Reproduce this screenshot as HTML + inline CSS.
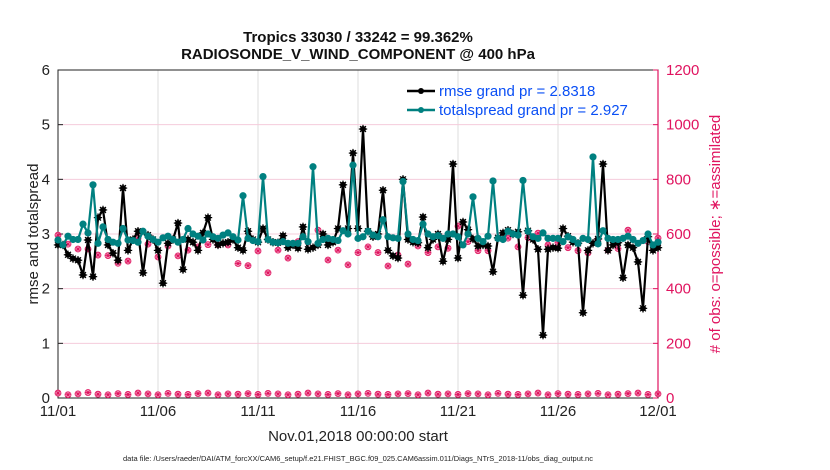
<!DOCTYPE html>
<html><head><meta charset="utf-8"><style>
body{margin:0;background:#fff;}
svg{display:block;font-family:"Liberation Sans",sans-serif;}
</style></head><body>
<svg id="chart" width="830" height="470"></svg>
<script>
const rmse=[2.8,2.8,2.62,2.55,2.52,2.25,2.89,2.22,3.3,3.44,2.8,2.65,2.52,3.84,2.7,2.9,3.05,2.29,2.98,2.9,2.7,2.1,2.83,2.9,3.2,2.35,2.9,2.85,2.7,3.02,3.3,2.9,2.8,2.83,2.85,2.9,2.75,2.7,3.05,2.9,2.85,3.1,2.9,2.85,2.84,2.97,2.75,2.8,2.74,3.13,2.72,2.75,2.8,3.0,2.8,2.85,3.1,3.9,3.1,4.48,3.1,4.92,3.05,2.95,3.0,3.8,2.7,2.6,2.56,4.0,2.9,2.85,2.84,3.31,2.75,2.9,3.0,2.5,2.9,4.28,2.56,3.22,3.08,2.91,2.78,2.8,2.78,2.31,2.93,3.02,3.07,3.0,3.04,1.88,3.06,2.9,2.72,1.15,2.72,2.75,2.74,3.1,2.96,2.85,2.83,1.56,2.7,2.83,2.91,4.28,2.7,2.8,2.84,2.2,2.8,2.75,2.49,1.64,2.95,2.7,2.75];
const spread=[2.89,2.8,2.96,2.9,2.9,3.18,3.02,3.9,2.83,3.13,2.9,2.85,2.83,3.1,2.89,2.88,2.85,3.05,2.96,2.9,2.85,2.93,2.96,2.9,2.85,2.9,3.1,3.0,2.96,2.89,3.0,2.95,2.92,2.98,3.02,2.95,2.89,3.7,2.92,2.88,2.86,4.05,2.9,2.85,2.84,2.86,2.83,2.83,2.83,2.95,2.86,4.23,2.83,2.9,2.92,2.9,2.88,3.06,3.0,4.26,2.92,2.95,3.05,2.98,2.95,3.26,2.95,2.93,2.92,3.96,3.0,2.9,2.88,3.18,3.0,2.95,2.97,2.92,3.0,3.0,2.95,2.8,3.0,3.68,2.92,2.86,2.96,3.97,2.92,2.9,3.05,3.0,2.98,3.98,3.05,2.95,2.92,3.02,2.92,2.92,2.92,2.86,2.95,2.9,2.83,2.92,2.9,4.41,2.82,3.06,2.92,2.9,2.9,2.92,2.96,2.9,2.83,2.88,3.0,2.8,2.85];
const obsUsed=[596,563,545,545,523,521,493,501,584,563,516,556,520,541,553,561,561,560,492,484,538,458,541,512,572,570,614,505,541,487,532,553,532,483,523,490,556,532,553,548,629,572,539,539,585,585,553,587,603,560,568,550,539,531,581,541,547,614,566,572,585];
const obsPoss=[18,12,15,20,14,12,16,13,18,15,12,17,14,13,16,18,12,15,14,16,13,17,15,12,14,18,15,13,16,12,15,17,14,13,15,16,12,18,14,15,13,16,15,12,17,14,13,15,18,12,16,14,13,15,17,12,14,16,18,13,15];
const xTicks=["11/01","11/06","11/11","11/16","11/21","11/26","12/01"];
const yTicks=[0,1,2,3,4,5,6];
const rTicks=[0,200,400,600,800,1000,1200];

const NS="http://www.w3.org/2000/svg",svg=document.getElementById('chart');
const L=58,R=658,T=70,B=398;
const xs=d=>L+(R-L)*d/30;
const yL=v=>B-(B-T)*v/6;
const yR=v=>B-(B-T)*v/1200;
const RED='#e0135f';
function mk(tag,a,p){const e=document.createElementNS(NS,tag);for(const k in a)e.setAttribute(k,a[k]);(p||svg).appendChild(e);return e;}
function tx(s,a){const e=mk('text',a);e.textContent=s;return e;}

xTicks.forEach((t,i)=>{const x=xs(i*5);
 const g=mk('line',{x1:x,x2:x,y1:T,y2:B,stroke:'#dcdcdc','stroke-width':1});
 });
rTicks.forEach(v=>{const y=yR(v);
 const g=mk('line',{x1:L,x2:R,y1:y,y2:y,stroke:'#f5ccdb','stroke-width':1});
 });

mk('rect',{x:L,y:T,width:R-L,height:B-T,fill:'none',stroke:'#222','stroke-width':1});
mk('line',{x1:R,x2:R,y1:T,y2:B,stroke:RED,'stroke-width':1.2});
yTicks.forEach(v=>{const y=yL(v);
 mk('line',{x1:L,x2:L+5,y1:y,y2:y,stroke:'#222'});
 const t=tx(String(v),{x:L-8,y:y+5,'text-anchor':'end','font-size':15,fill:'#222'});
 });
rTicks.forEach(v=>{const y=yR(v);
 mk('line',{x1:R-5,x2:R,y1:y,y2:y,stroke:RED});
 const t=tx(String(v),{x:R+8,y:y+5,'font-size':15,fill:RED});
 });
xTicks.forEach((s,i)=>{const x=xs(i*5);
 mk('line',{x1:x,x2:x,y1:B,y2:B-5,stroke:'#222'});
 const t=tx(s,{x:x,y:B+18,'text-anchor':'middle','font-size':15,fill:'#222'});
 });

let t=tx('Tropics 33030 / 33242 = 99.362%',{x:358,y:42,'text-anchor':'middle','font-size':15,'font-weight':'bold',fill:'#111'});

t=tx('RADIOSONDE_V_WIND_COMPONENT @ 400 hPa',{x:358,y:59,'text-anchor':'middle','font-size':15,'font-weight':'bold',fill:'#111'});

t=tx('rmse and totalspread',{x:0,y:0,'text-anchor':'middle','font-size':15,fill:'#222',transform:'translate(38,234) rotate(-90)'});

t=tx('# of obs: o=possible; \u2217=assimilated',{x:0,y:0,'text-anchor':'middle','font-size':15,fill:RED,transform:'translate(720,234) rotate(-90)'});

t=tx('Nov.01,2018 00:00:00 start',{x:358,y:441,'text-anchor':'middle','font-size':15,fill:'#222'});

t=tx('data file: /Users/raeder/DAI/ATM_forcXX/CAM6_setup/f.e21.FHIST_BGC.f09_025.CAM6assim.011/Diags_NTrS_2018-11/obs_diag_output.nc',{x:358,y:461,'text-anchor':'middle','font-size':7.5,fill:'#222'});


function ast(x,y,r,c,p,w){for(let k=0;k<4;k++){const a=k*Math.PI/4;mk('line',{x1:x-r*Math.cos(a),y1:y-r*Math.sin(a),x2:x+r*Math.cos(a),y2:y+r*Math.sin(a),stroke:c,'stroke-width':w||1},p);}}
obsUsed.forEach((v,j)=>{const g=mk('g',{});
 
 const x=xs(j*0.5),y=yR(v);mk('circle',{cx:x,cy:y,r:3,fill:'none',stroke:RED,'stroke-width':0.8},g);ast(x,y,3,RED,g,0.9);});
obsPoss.forEach((v,j)=>{const g=mk('g',{});
 
 const x=xs(j*0.5),y=yR(v);mk('circle',{cx:x,cy:y,r:3,fill:'none',stroke:RED,'stroke-width':0.8},g);ast(x,y,3,RED,g,0.9);});

function series(arr,color,name,star){
 const pts=arr.map((v,i)=>xs(i*0.25)+','+yL(v)).join(' ');
 const pl=mk('polyline',{points:pts,fill:'none',stroke:color,'stroke-width':2.2,'stroke-linejoin':'round'});
 
 arr.forEach((v,i)=>{const g=mk('g',{});
  
  const x=xs(i*0.25),y=yL(v);mk('circle',{cx:x,cy:y,r:star?3:3.6,fill:color},g);if(star)ast(x,y,4.2,color,g,1.2);});
}
series(rmse,'#000','rmse',true);
series(spread,'#008080','totalspread',false);

const lg=mk('g',{});
[['rmse grand pr = 2.8318','#000',91],['totalspread grand pr = 2.927','#008080',110]].forEach(([s,c,y])=>{
 const e=mk('g',{},lg);
 mk('line',{x1:407,x2:435,y1:y,y2:y,stroke:c,'stroke-width':2.5},e);
 mk('circle',{cx:421,cy:y,r:3,fill:c},e);
 const tt=mk('text',{x:439,y:y+5,'font-size':15,fill:'#0a4ff5'},e);tt.textContent=s;});
</script>
</body></html>
